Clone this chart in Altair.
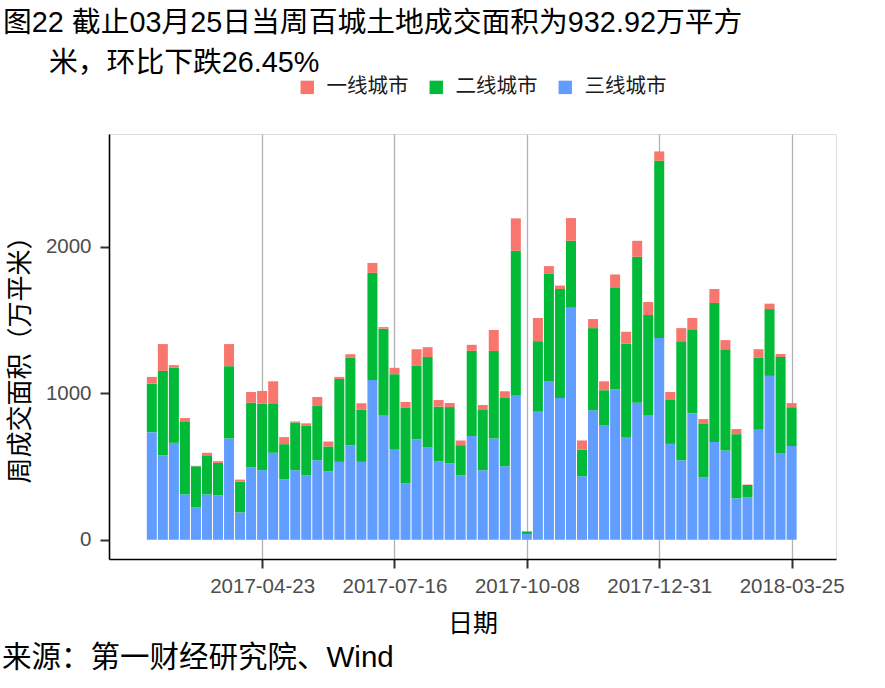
import altair as alt
import pandas as pd

# ---- data (万平方米) ----
week_start = "2017-02-12"
week_end = "2018-03-25"
tiers = ["一线城市", "二线城市", "三线城市"]
tier_colors = ["#F8766D", "#00BA38", "#619CFF"]

tier3 = [735, 577, 662, 310, 221, 310, 303, 692, 187, 495, 475, 594, 413, 475, 441,
         543, 468, 532, 646, 532, 1091, 852, 616, 386, 685, 630, 537, 523, 441, 708,
         475, 692, 502, 989, 40, 879, 1084, 968, 1584, 434, 884, 779, 1027, 701, 936,
         852, 1377, 655, 543, 863, 427, 667, 610, 283, 290, 756, 1119, 592, 640]
tier2 = [331, 576, 512, 494, 281, 267, 222, 493, 210, 441, 454, 338, 240, 326, 340,
         370, 169, 566, 596, 358, 731, 589, 514, 518, 502, 617, 372, 383, 205, 582,
         411, 596, 466, 984, 15, 477, 731, 744, 457, 182, 561, 242, 692, 637, 996,
         682, 1210, 304, 813, 569, 368, 949, 691, 438, 84, 486, 456, 656, 265]
tier1 = [46, 183, 18, 27, 3, 17, 12, 151, 14, 73, 87, 150, 48, 7, 14,
         62, 34, 14, 25, 42, 68, 11, 44, 37, 114, 68, 45, 28, 32, 41,
         34, 144, 46, 221, 5, 158, 53, 23, 155, 62, 62, 61, 92, 82, 109,
         89, 64, 50, 89, 82, 29, 96, 62, 35, 3, 59, 37, 20, 28]

tick_dates = ["2017-04-23", "2017-07-16", "2017-10-08", "2017-12-31", "2018-03-25"]
y_ticks = [0, 1000, 2000]

title_line1 = "图22 截止03月25日当周百城土地成交面积为932.92万平方"
title_line2 = "米，环比下跌26.45%"
source_text = "来源：第一财经研究院、Wind"
x_title = "日期"
y_title = "周成交面积（万平米）"

# ---- build long table ----
dates = pd.date_range(week_start, week_end, freq="7D")
rows = []
for i, d in enumerate(dates):
    for tier, vals, order in ((tiers[2], tier3, 0), (tiers[1], tier2, 1), (tiers[0], tier1, 2)):
        rows.append({"date": d.strftime("%Y-%m-%dT00:00:00"), "tier": tier,
                     "value": vals[i], "ord": order})
df = pd.DataFrame(rows)

LATIN_CJK = "Liberation Sans, Noto Sans CJK SC"
CJK = "Noto Sans CJK SC"


def dt(s):
    y, m, d = (int(p) for p in s.split("-"))
    return alt.DateTime(year=y, month=m, date=d)


bars = alt.Chart(df).mark_bar(size=10).encode(
    x=alt.X("date:T",
            scale=alt.Scale(domain=[dt("2017-01-19"), dt("2018-04-19")]),
            axis=alt.Axis(values=[dt(s) for s in tick_dates], format="%Y-%m-%d",
                          title=x_title, grid=True, gridColor="#b3b3b3", gridWidth=1.3,
                          domainColor="#000000", domainWidth=1.6,
                          tickColor="#333333", tickWidth=2, tickSize=9,
                          labelFont="Liberation Sans", labelFontSize=20.5,
                          labelColor="#4d4d4d", labelPadding=8,
                          titleFont=CJK, titleFontSize=25, titleFontWeight="normal",
                          titleColor="#000000", titleY=64, titleBaseline="middle")),
    y=alt.Y("value:Q", stack="zero",
            scale=alt.Scale(domain=[-131, 2770], nice=False, zero=False),
            axis=alt.Axis(values=y_ticks, format="d", title=y_title, grid=False,
                          domainColor="#000000", domainWidth=1.6,
                          tickColor="#333333", tickWidth=2, tickSize=9,
                          labelFont="Liberation Sans", labelFontSize=20.5,
                          labelColor="#4d4d4d", labelPadding=9,
                          titleFont=CJK, titleFontSize=26, titleFontWeight="normal",
                          titleColor="#000000", titleX=-89, titleY=219,
                          titleBaseline="middle", titleAngle=270)),
    color=alt.Color("tier:N",
                    scale=alt.Scale(domain=tiers, range=tier_colors),
                    legend=alt.Legend(orient="none", legendX=188, legendY=-57,
                                      direction="horizontal", title=None,
                                      symbolType="square", symbolSize=180,
                                      symbolStrokeWidth=0, labelFont=CJK,
                                      labelFontSize=20.5, labelColor="#1a1a1a",
                                      labelOffset=9, columnPadding=17, padding=0,
                                      labelBaseline="middle")),
    order=alt.Order("ord:Q", sort="ascending"),
)


def text_layer(txt, x, y, size):
    return alt.Chart(pd.DataFrame({"t": [txt]})).mark_text(
        align="left", baseline="middle", font=LATIN_CJK, fontSize=size, color="#000000"
    ).encode(x=alt.value(x), y=alt.value(y), text="t:N")


chart = alt.layer(
    bars,
    text_layer(title_line1, -106, -111.5, 28.8),
    text_layer(title_line2, -60, -71.5, 28.8),
    text_layer(source_text, -107, 523.5, 29.5),
).properties(
    width=727, height=425,
    autosize=alt.AutoSizeParams(type="none"),
    padding={"left": 109, "top": 134, "right": 49, "bottom": 129},
).configure_view(stroke=None).configure(background="#ffffff")

chart.save("out.html", embed_options={"renderer": "svg", "actions": False})
